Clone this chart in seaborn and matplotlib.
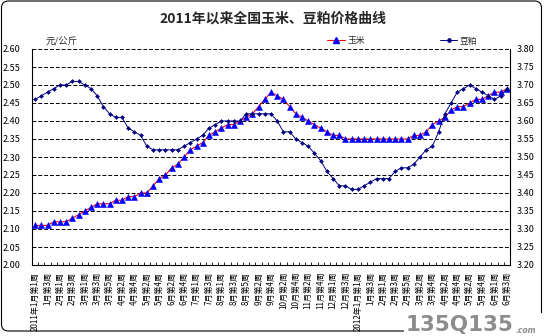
import numpy as np
import pandas as pd
import matplotlib
matplotlib.use("Agg")
import matplotlib.pyplot as plt
import seaborn as sns
from matplotlib.lines import Line2D
from matplotlib.patches import FancyBboxPatch, Rectangle
from matplotlib.transforms import IdentityTransform

# Weekly national average prices, yuan per kg
corn = [
    2.11, 2.11, 2.11, 2.12, 2.12, 2.12, 2.13, 2.14, 2.15, 2.16,
    2.17, 2.17, 2.17, 2.18, 2.18, 2.19, 2.19, 2.20, 2.20, 2.22,
    2.24, 2.25, 2.27, 2.28, 2.30, 2.32, 2.33, 2.34, 2.36, 2.37,
    2.38, 2.39, 2.39, 2.40, 2.41, 2.42, 2.44, 2.46, 2.48, 2.47,
    2.46, 2.44, 2.42, 2.41, 2.40, 2.39, 2.38, 2.37, 2.36, 2.36,
    2.35, 2.35, 2.35, 2.35, 2.35, 2.35, 2.35, 2.35, 2.35, 2.35,
    2.35, 2.36, 2.36, 2.37, 2.39, 2.40, 2.41, 2.43, 2.44, 2.44,
    2.45, 2.46, 2.46, 2.47, 2.48, 2.48, 2.49,
]
soymeal = [
    3.66, 3.67, 3.68, 3.69, 3.70, 3.70, 3.71, 3.71, 3.70, 3.69,
    3.67, 3.64, 3.62, 3.61, 3.61, 3.58, 3.57, 3.56, 3.53, 3.52,
    3.52, 3.52, 3.52, 3.52, 3.53, 3.54, 3.55, 3.56, 3.58, 3.59,
    3.60, 3.60, 3.60, 3.60, 3.62, 3.62, 3.62, 3.62, 3.62, 3.60,
    3.57, 3.57, 3.55, 3.54, 3.53, 3.51, 3.49, 3.46, 3.44, 3.42,
    3.42, 3.41, 3.41, 3.42, 3.43, 3.44, 3.44, 3.44, 3.46, 3.47,
    3.47, 3.48, 3.50, 3.52, 3.53, 3.57, 3.62, 3.65, 3.68, 3.69,
    3.70, 3.69, 3.68, 3.67, 3.66, 3.67, 3.69,
]
# Labels shown on every second week
tick_labels = [
    "2011年1月第1周", "1月第3周", "2月第1周", "2月第3周", "3月第1周",
    "3月第3周", "3月第5周", "4月第2周", "4月第4周", "5月第2周",
    "5月第4周", "6月第2周", "6月第4周", "7月第1周", "7月第3周",
    "8月第1周", "8月第3周", "8月第5周", "9月第2周", "9月第4周",
    "10月第2周", "10月第4周", "11月第2周", "11月第4周", "12月第1周",
    "12月第3周", "2012年1月第1周", "1月第3周", "2月第1周", "2月第3周",
    "2月第5周", "3月第2周", "3月第4周", "4月第2周", "4月第4周",
    "5月第2周", "5月第4周", "6月第1周", "6月第3周",
]
left_ticks = np.round(np.arange(2.00, 2.601, 0.05), 2)
right_ticks = np.round(np.arange(3.20, 3.801, 0.05), 2)

sns.set_theme(style="white")
plt.rcParams["font.family"] = ["Noto Sans CJK SC", "DejaVu Sans"]
plt.rcParams["axes.unicode_minus"] = False

W, H = 546, 336
fig = plt.figure(figsize=(W / 100, H / 100), dpi=100, facecolor="white")
x0, x1, y_top, y_bot = 32, 510, 49, 265
ax = fig.add_axes([x0 / W, 1 - y_bot / H, (x1 - x0) / W, (y_bot - y_top) / H])
ax.set_facecolor("white")
ax2 = ax.twinx()

df = pd.DataFrame({"week": np.arange(len(corn)), "corn": corn, "meal": soymeal})

sns.lineplot(data=df, x="week", y="corn", ax=ax, color="#FF0000", lw=0.8,
             marker="^", markersize=4.9, markerfacecolor="#0000FF",
             markeredgecolor="#0000FF", markeredgewidth=0.4, zorder=3)
sns.lineplot(data=df, x="week", y="meal", ax=ax2, color="#000080", lw=0.7,
             marker="D", markersize=2.1, markerfacecolor="#000080",
             markeredgecolor="#000080", markeredgewidth=0.3, zorder=4)

n = len(corn)
ax.set_xlim(-0.5, n - 0.5)
ax.set_ylim(2.0, 2.6)
ax2.set_ylim(3.2, 3.8)
ax.set_xlabel("")
ax.set_ylabel("")
ax2.set_ylabel("")

ax.set_yticks(left_ticks)
ax.set_yticklabels([f"{v:.2f}" for v in left_ticks], fontsize=6.5)
ax2.set_yticks(right_ticks)
ax2.set_yticklabels([f"{v:.2f}" for v in right_ticks], fontsize=6.5)
ax.tick_params(axis="y", length=0, pad=8.5, colors="black")
ax2.tick_params(axis="y", length=0, pad=5, colors="black")

ax.set_xticks(np.arange(0, n, 2))
ax.set_xticklabels(tick_labels, rotation=90, fontsize=5.8)
ax.set_xticks(np.arange(-0.5, n, 1), minor=True)
ax.tick_params(axis="x", which="major", length=0, pad=5, colors="black")
ax.tick_params(axis="x", which="minor", direction="in", length=2, width=0.6,
               color="black", bottom=True)

ax.yaxis.grid(True, color="black", linestyle=(0, (4, 2)), lw=0.7)
ax.xaxis.grid(False)
ax2.grid(False)

for a in (ax, ax2):
    a.spines["top"].set_visible(False)
ax2.spines["left"].set_visible(False)
ax2.spines["bottom"].set_visible(False)
ax.spines["right"].set_visible(False)
for s in ("left", "bottom"):
    ax.spines[s].set_color("black")
    ax.spines[s].set_linewidth(0.8)
ax2.spines["right"].set_color("black")
ax2.spines["right"].set_linewidth(0.8)

fig.text(273 / W, 1 - 19 / H, "2011年以来全国玉米、豆粕价格曲线",
         ha="center", va="center", fontsize=10, fontweight="bold")
fig.text(46 / W, 1 - 42 / H, "元/公斤", ha="left", va="center",
         fontsize=6.8, style="italic")

handles = [
    Line2D([], [], color="#FF0000", lw=0.8, marker="^", markersize=4.9,
           markerfacecolor="#0000FF", markeredgecolor="#0000FF"),
    Line2D([], [], color="#000080", lw=0.7, marker="D", markersize=2.1,
           markerfacecolor="#000080", markeredgecolor="#000080"),
]
fig.legend(handles, ["玉米", "豆粕"], ncol=2, loc="center left",
           bbox_to_anchor=(327 / W, 1 - 41 / H), frameon=False, fontsize=6.3,
           handlelength=2.0, handletextpad=0.3, columnspacing=8.6,
           borderpad=0, borderaxespad=0)

# Rounded outer frame
frame = FancyBboxPatch((1.5, 5.0), 540, 330, boxstyle="round,pad=0,rounding_size=7",
                       transform=IdentityTransform(), fill=False,
                       edgecolor="black", lw=0.8)
fig.patches.append(frame)

# Site mark in the lower right corner
fig.patches.append(Rectangle((404, 0), 142, 23, transform=IdentityTransform(),
                             facecolor="white", edgecolor="none", zorder=5))
fig.text(406 / W, 0.5 / H, "135Q135", ha="left", va="bottom", fontsize=15.5,
         fontweight="bold", color="#8c8c8c", family="DejaVu Sans", zorder=6)
fig.text(516 / W, 1.0 / H, ".com", ha="left", va="bottom", fontsize=5.5,
         fontweight="bold", style="italic", color="#8c8c8c",
         family="DejaVu Sans", zorder=6)

fig.savefig("out.png", dpi=100, facecolor="white")
